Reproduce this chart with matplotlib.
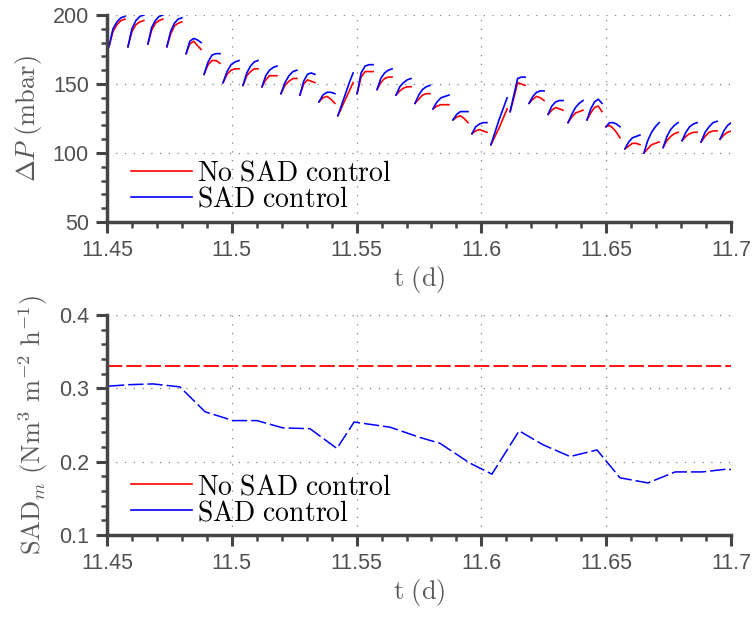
import numpy as np
import matplotlib
matplotlib.use('Agg')
import matplotlib.pyplot as plt
from matplotlib.lines import Line2D
from matplotlib.ticker import MultipleLocator, AutoMinorLocator

plt.rcParams['mathtext.fontset'] = 'cm'
plt.rcParams['font.family'] = ['Liberation Sans', 'DejaVu Sans']

# filtration cycles (start / end time, d)
cycle_start = [11.4508, 11.4584, 11.4664, 11.4740, 11.4817, 11.4889, 11.4965, 11.5045,
               11.5121, 11.5197, 11.5273, 11.5349, 11.5425, 11.5502, 11.5582, 11.5658,
               11.5734, 11.5806, 11.5886, 11.5962, 11.6038, 11.6115, 11.6191, 11.6267,
               11.6347, 11.6423, 11.6499, 11.6575, 11.6651, 11.6728, 11.6804, 11.6880,
               11.6956]
cycle_end = [11.4572, 11.4648, 11.4724, 11.4800, 11.4877, 11.4953, 11.5029, 11.5105,
             11.5181, 11.5261, 11.5333, 11.5413, 11.5486, 11.5566, 11.5642, 11.5718,
             11.5794, 11.5870, 11.5946, 11.6022, 11.6103, 11.6175, 11.6251, 11.6327,
             11.6407, 11.6483, 11.6555, 11.6635, 11.6712, 11.6788, 11.6864, 11.6944,
             11.7016]

# dP over each cycle (5 samples per cycle), mbar
dp_sad = [[177, 190, 195, 198, 199], [177, 190, 196, 199, 200], [179, 191, 196, 199, 200],
          [177, 188, 194, 197, 198], [172, 181, 183, 182, 180], [157, 166, 171, 172, 172],
          [151, 159, 164, 166, 167], [149, 158, 163, 166, 167], [148, 156, 160, 162, 163],
          [143, 151, 156, 159, 160], [142, 152, 157, 158, 157], [137, 142, 144, 144, 143],
          [127, 135, 143, 151, 158], [143, 158, 163, 164, 164], [146, 154, 158, 160, 161],
          [142, 148, 151, 153, 154], [136, 142, 146, 148, 149], [132, 137, 140, 141, 142],
          [124, 128, 130, 130, 130], [114, 119, 121, 122, 122], [106, 115, 124, 132, 140],
          [130, 142, 154, 155, 155], [136, 141, 144, 145, 145], [128, 134, 137, 138, 138],
          [122, 128, 133, 136, 138], [124, 132, 137, 139, 136], [119, 122, 122, 121, 119],
          [103, 108, 111, 112, 113], [100, 109, 115, 119, 122], [104, 112, 117, 120, 122],
          [109, 115, 119, 121, 122], [108, 115, 119, 122, 123], [110, 116, 120, 122, 123]]
dp_nosad = [[177, 188, 193, 196, 197], [177, 188, 193, 195, 196], [179, 189, 194, 196, 197],
            [177, 186, 192, 194, 195], [172, 179, 181, 178, 175], [157, 164, 167, 167, 165],
            [151, 157, 160, 161, 161], [149, 156, 159, 161, 161], [148, 153, 156, 156, 156],
            [143, 149, 152, 154, 154], [142, 150, 153, 152, 151], [137, 140, 141, 139, 136],
            [127, 133, 139, 145, 151], [143, 155, 159, 159, 159], [146, 151, 154, 155, 155],
            [142, 145, 147, 148, 148], [136, 139, 142, 143, 143], [132, 134, 135, 135, 135],
            [124, 126, 127, 125, 122], [114, 116, 117, 116, 115], [106, 112, 118, 125, 132],
            [130, 140, 151, 150, 149], [136, 139, 141, 140, 138], [128, 131, 133, 132, 131],
            [122, 126, 129, 130, 131], [124, 129, 133, 134, 130], [119, 120, 118, 115, 111],
            [103, 105, 107, 107, 106], [100, 103, 106, 107, 108], [104, 109, 112, 114, 115],
            [109, 112, 114, 115, 115], [108, 112, 115, 116, 116], [110, 113, 115, 116, 117]]

# SAD_m setpoints
t_sad = [11.4508, 11.4592, 11.4684, 11.4792, 11.4893, 11.5005, 11.5101, 11.5205, 11.5313,
         11.5421, 11.5490, 11.5634, 11.5754, 11.5834, 11.5954, 11.6042, 11.6151, 11.6247,
         11.6355, 11.6463, 11.6555, 11.6667, 11.6776, 11.6884, 11.6988, 11.7000]
sad_ctrl = [0.303, 0.305, 0.306, 0.302, 0.268, 0.256, 0.256, 0.246, 0.245, 0.218, 0.254,
            0.247, 0.233, 0.225, 0.198, 0.183, 0.242, 0.223, 0.207, 0.216, 0.178, 0.171,
            0.186, 0.186, 0.190, 0.189]
t_nosad = [11.45, 11.70]
sad_nosad = [0.33, 0.33]


def cycles_to_line(values):
    t, y = [], []
    for ts, te, v in zip(cycle_start, cycle_end, values):
        t += list(np.linspace(ts, te, len(v))) + [np.nan]
        y += list(v) + [np.nan]
    return t, y


tick_col = '#505050'
label_col = '#5a5a5a'

fig = plt.figure(figsize=(7.56, 6.17), dpi=100)
ax1 = fig.add_axes([0.1415, 0.6402, 0.8255, 0.3355])
ax2 = fig.add_axes([0.1415, 0.1329, 0.8255, 0.3566])

t, y = cycles_to_line(dp_nosad)
ax1.plot(t, y, color='#ff0000', lw=1.2)
t, y = cycles_to_line(dp_sad)
ax1.plot(t, y, color='#0000ff', lw=1.2)

ax2.plot(t_nosad, sad_nosad, color='#ff0000', lw=1.3, dashes=(8.5, 2.2))
ax2.plot(t_sad, sad_ctrl, color='#0000ff', lw=1.1, dashes=(10, 2.6))

ax1.set_ylim(50, 200)
ax1.yaxis.set_major_locator(MultipleLocator(50))
ax2.set_ylim(0.1, 0.4)
ax2.yaxis.set_major_locator(MultipleLocator(0.1))
ax2.yaxis.set_major_formatter(matplotlib.ticker.FormatStrFormatter('%.1f'))

xticks = [11.45, 11.5, 11.55, 11.6, 11.65, 11.7]
xlabels = ['11.45', '11.5', '11.55', '11.6', '11.65', '11.7']

for ax in (ax1, ax2):
    ax.set_xlim(11.45, 11.7)
    ax.set_xticks(xticks)
    ax.set_xticklabels(xlabels)
    ax.xaxis.set_minor_locator(AutoMinorLocator(5))
    ax.yaxis.set_minor_locator(AutoMinorLocator(5))
    ax.spines['top'].set_visible(False)
    ax.spines['right'].set_visible(False)
    for s in ('left', 'bottom'):
        ax.spines[s].set_linewidth(2.5)
        ax.spines[s].set_color('#454545')
    ax.tick_params(which='major', direction='out', length=8, width=2.2,
                   color='#454545', labelsize=15.5, labelcolor=tick_col, pad=5)
    ax.tick_params(which='minor', direction='out', length=4.5, width=1.8, color='#454545')
    ax.grid(True, which='major', color='#808080', lw=0.9, linestyle=(0, (1, 6)))
    ax.set_axisbelow(True)
    ax.set_xlabel(r'$\mathrm{t\ (d)}$', fontsize=19, color=label_col, labelpad=2)
    handles = [Line2D([], [], color='#ff0000', lw=1.2), Line2D([], [], color='#0000ff', lw=1.2)]
    leg = ax.legend(handles, [r'$\mathrm{No\ SAD\ control}$', r'$\mathrm{SAD\ control}$'],
                    loc='lower left', frameon=False, fontsize=20, handlelength=2.2,
                    handletextpad=0.2, labelspacing=0.0, borderaxespad=0.0,
                    bbox_to_anchor=(0.02, -0.01))

ax1.set_ylabel(r'$\Delta P\ \mathrm{(mbar)}$', fontsize=19, color=label_col, labelpad=6)
ax2.set_ylabel(r'$\mathrm{SAD}_m\ \mathrm{(Nm^3\ m^{-2}\ h^{-1})}$', fontsize=19,
               color=label_col, labelpad=6)

fig.savefig('out.png', dpi=100)
